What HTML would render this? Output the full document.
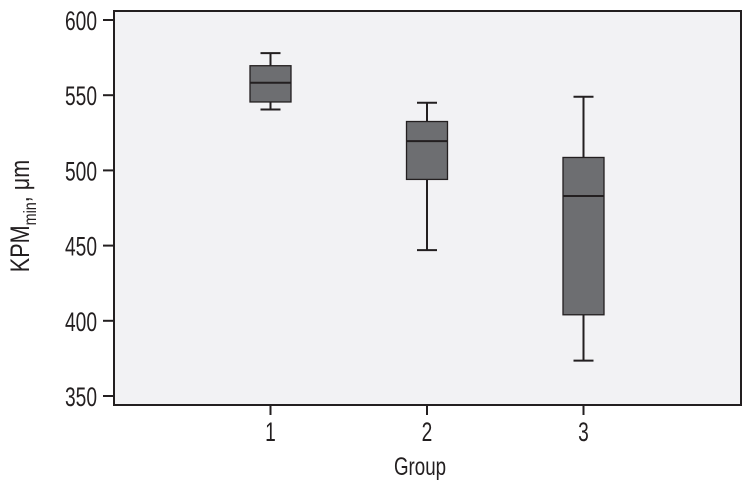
<!DOCTYPE html>
<html><head><meta charset="utf-8"><style>
html,body{margin:0;padding:0;background:#fff;}
svg text{font-family:"Liberation Sans",sans-serif;fill:#231f20;}
</style></head><body>
<svg width="751" height="486" viewBox="0 0 751 486">
<rect x="114" y="11" width="627" height="394" fill="#f2f2f4" stroke="#231f20" stroke-width="2"/>
<g id="yaxis"></g>
<g id="xaxis"></g>
<g id="boxes"></g>
<text font-size="25" text-anchor="middle" transform="translate(420,475) scale(0.75,1)">Group</text>
<text transform="translate(29,216) rotate(-90) scale(0.8,1)" font-size="27" text-anchor="middle">KPM<tspan font-size="18" dy="7">min</tspan><tspan dy="-7">, μm</tspan></text>
</svg>
<script>
const categories = ["1","2","3"];
const whiskerLow = [540.5, 447, 373.5];
const q1 = [545.5, 494, 404];
const median = [558.3, 519.5, 483];
const q3 = [569.6, 532.5, 508.6];
const whiskerHigh = [578, 545, 549];
const yTicks = [350,400,450,500,550,600];

const NS="http://www.w3.org/2000/svg";
function y(v){return 20 + (600 - v) * 1.504;}
function x(i){return 114 + (i + 1) * 156.5;}
function mk(tag, attrs, parent){const e=document.createElementNS(NS,tag);for(const k in attrs)e.setAttribute(k,attrs[k]);parent.appendChild(e);return e;}
const ya=document.getElementById('yaxis'), xa=document.getElementById('xaxis'), bx=document.getElementById('boxes');
yTicks.forEach(t=>{
  const l=mk('line',{x1:103,x2:114,y1:y(t),y2:y(t),stroke:'#231f20','stroke-width':2},ya);
  
  
  const tx=mk('text',{'font-size':27,'text-anchor':'end',transform:`translate(97,${y(t)+10}) scale(0.71,1)`},ya);
  tx.textContent=t;
  
  
});
categories.forEach((c,i)=>{
  const cx=x(i);
  const l=mk('line',{x1:cx,x2:cx,y1:405,y2:415,stroke:'#231f20','stroke-width':2},xa);
  
  
  const tx=mk('text',{'font-size':27,'text-anchor':'middle',transform:`translate(${cx},441) scale(0.71,1)`},xa);
  tx.textContent=c;
  
  
  const g=mk('g',{},bx);
  
  
  const st={stroke:'#231f20','stroke-width':2};
  mk('line',Object.assign({x1:cx,x2:cx,y1:y(whiskerHigh[i]),y2:y(q3[i])},st),g);
  mk('line',Object.assign({x1:cx,x2:cx,y1:y(q1[i]),y2:y(whiskerLow[i])},st),g);
  mk('line',Object.assign({x1:cx-10,x2:cx+10,y1:y(whiskerHigh[i]),y2:y(whiskerHigh[i])},st),g);
  mk('line',Object.assign({x1:cx-10,x2:cx+10,y1:y(whiskerLow[i]),y2:y(whiskerLow[i])},st),g);
  mk('rect',{x:cx-20.5,y:y(q3[i]),width:41,height:y(q1[i])-y(q3[i]),fill:'#6d6e71',stroke:'#231f20','stroke-width':1.3},g);
  mk('line',Object.assign({x1:cx-20.5,x2:cx+20.5,y1:y(median[i]),y2:y(median[i])},st),g);
});
</script>
</body></html>
